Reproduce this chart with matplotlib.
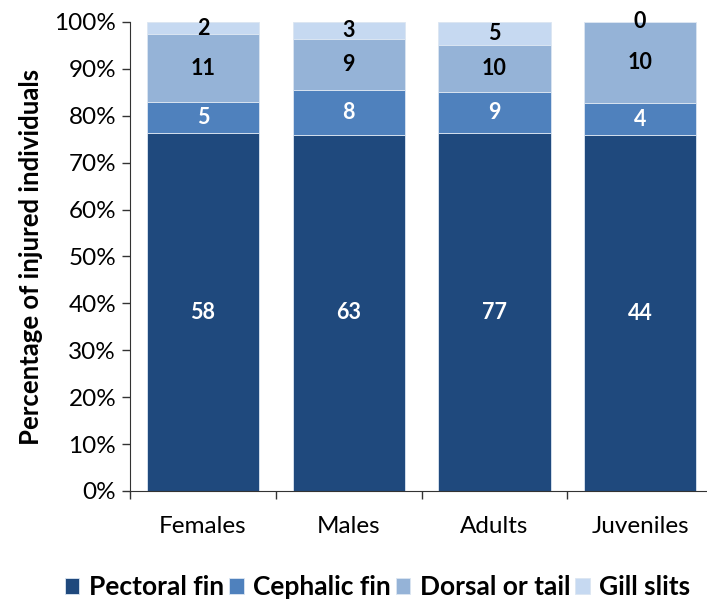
import numpy as np
import matplotlib.pyplot as plt
from matplotlib.ticker import PercentFormatter, FixedLocator

plt.rcParams['font.family'] = ['Lato', 'DejaVu Sans']

groups = ["Females", "Males", "Adults", "Juveniles"]
series = ["Pectoral fin", "Cephalic fin", "Dorsal or tail", "Gill slits"]
pectoral = [58, 63, 77, 44]
cephalic = [5, 8, 9, 4]
dorsal = [11, 9, 10, 10]
gill = [2, 3, 5, 0]
colors = ["#1f497d", "#4f81bd", "#95b3d7", "#c6d9f1"]
label_colors = ["white", "white", "black", "black"]

counts = np.array([pectoral, cephalic, dorsal, gill], dtype=float)
pct = counts / counts.sum(axis=0) * 100

fig = plt.figure(figsize=(7.07, 6.02), dpi=100)
ax = fig.add_axes([0.1839, 0.1844, 0.8246, 0.7791])

x = np.arange(len(groups))
bottom = np.zeros(len(groups))
for i in range(len(series)):
    bars = ax.bar(x, pct[i], 0.77, bottom=bottom, color=colors[i],
                  edgecolor="#dce6f2", linewidth=0.6, label=series[i])
    for j in range(len(groups)):
        ax.text(x[j], bottom[j] + pct[i][j] / 2, "%d" % counts[i][j],
                ha="center", va="center", color=label_colors[i],
                fontsize=15.5, fontweight="bold")
    bottom += pct[i]

ax.set_xlim(-0.5, len(groups) - 0.5)
ax.set_ylim(0, 100)
ax.yaxis.set_major_formatter(PercentFormatter(decimals=0))
ax.set_yticks(np.arange(0, 101, 10))
ax.set_xticks(x)
ax.set_xticklabels(groups)
ax.xaxis.set_minor_locator(FixedLocator(np.arange(-0.5, len(groups), 1)))
ax.tick_params(axis="x", which="major", length=0, pad=18, labelsize=17.5)
ax.tick_params(axis="x", which="minor", length=6, width=1, color="#333333")
ax.tick_params(axis="y", length=6, width=1, color="#333333", labelsize=17.5,
               pad=4)
for s in ["top", "right"]:
    ax.spines[s].set_visible(False)
for s in ["left", "bottom"]:
    ax.spines[s].set_color("#333333")
ax.set_ylabel("Percentage of injured individuals", fontsize=18.5,
              fontweight="bold", labelpad=8)

fig.legend(loc="center", bbox_to_anchor=(0.534, 0.025), ncol=4,
           frameon=False, prop={"size": 19, "weight": "bold"},
           handlelength=0.55, handleheight=0.55, handletextpad=0.35,
           columnspacing=0.2)

fig.savefig("out.png", dpi=100)
